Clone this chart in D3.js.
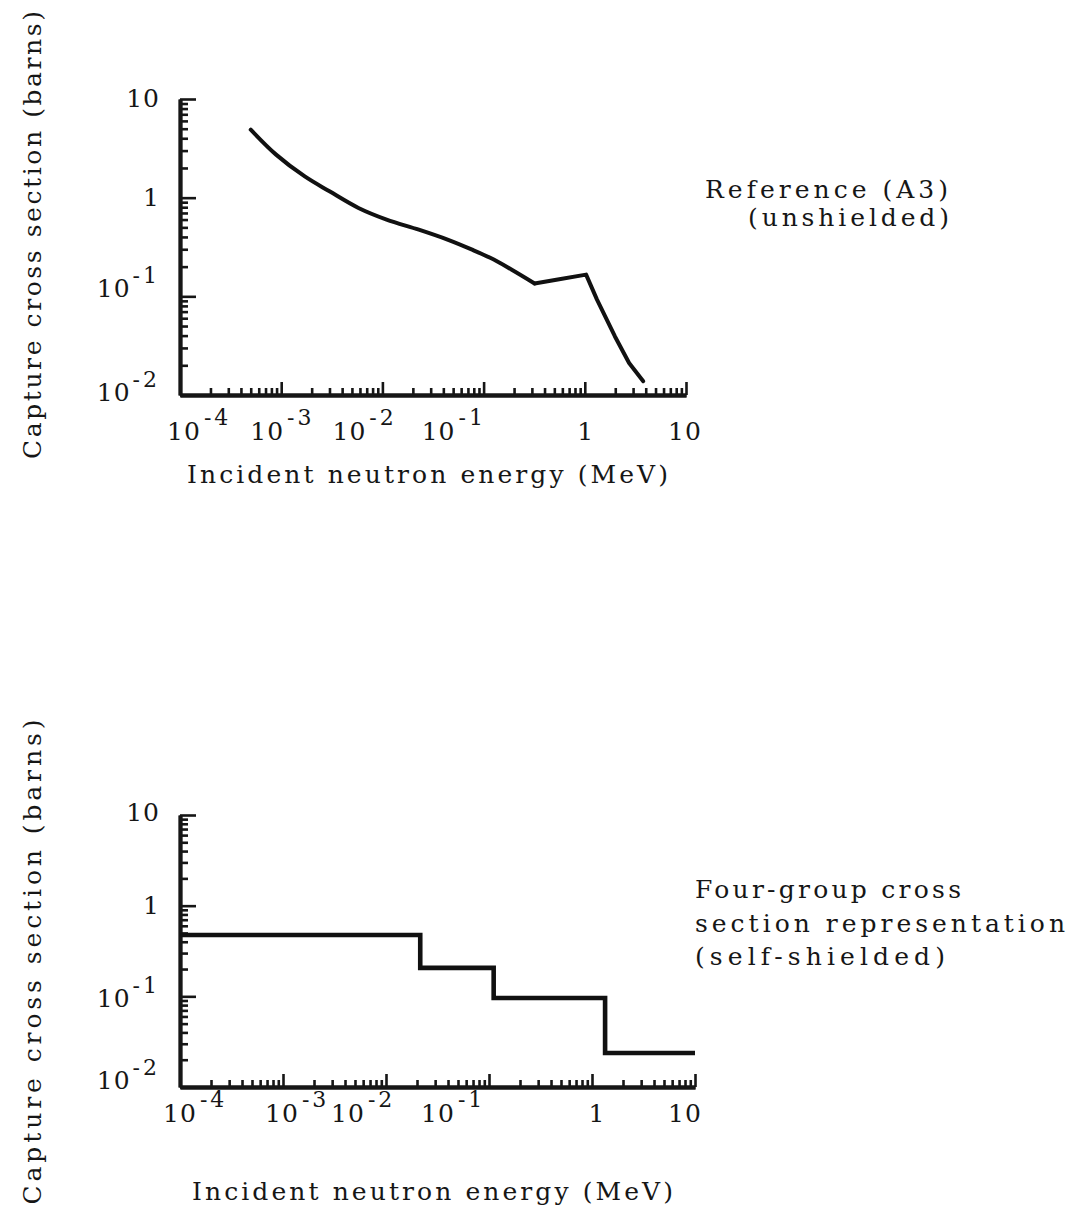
<!DOCTYPE html>
<html>
<head>
<meta charset="utf-8">
<script src="https://cdn.jsdelivr.net/npm/d3@7"></script>
<style>
  body { margin: 0; background: #fff; }
  svg { display: block; }
  text { font-family: "DejaVu Serif", serif; fill: #161616; }
  .domain { stroke: #161616; stroke-width: 3.8; }
  .tick line { stroke: #161616; stroke-width: 2.6; }
</style>
</head>
<body>
<svg id="chart" width="1071" height="1213"></svg>
<script>
// Unshielded capture cross section (barns) vs incident neutron energy (MeV)
const refEnergy = [5.0e-4, 8.9e-4, 1.71e-3, 3.0e-3, 5.8e-3, 1.10e-2, 2.29e-2, 4.4e-2, 7.7e-2, 0.126, 0.188, 0.319, 0.541, 1.03, 1.32, 1.98, 2.74, 3.78];
const refSigma  = [4.89, 2.73, 1.64, 1.16, 0.787, 0.600, 0.474, 0.376, 0.297, 0.236, 0.187, 0.135, 0.148, 0.166, 0.0927, 0.0394, 0.0211, 0.0138];
// index of the minimum near 0.3 MeV, where the smooth fall gives way to the resonance bump
const dipIndex = 11;

// Four-group self-shielded representation: group boundaries (MeV) and group values (barns)
const groupBounds = [1e-4, 0.0215, 0.111, 1.34, 10];
const groupSigma  = [0.475, 0.206, 0.096, 0.0237];

// Axis decades and their printed labels (base, exponent)
const xDecades = [1e-4, 1e-3, 1e-2, 1e-1, 1, 10];
const xDecadeText = [["10", "-4"], ["10", "-3"], ["10", "-2"], ["10", "-1"], ["1", ""], ["10", ""]];
const yDecades = [10, 1, 0.1, 0.01];
const yDecadeText = [["10", ""], ["1", ""], ["10", "-1"], ["10", "-2"]];

const xTitle = "Incident neutron energy (MeV)";
const yTitle = "Capture cross section (barns)";
const topNote = ["Reference (A3)", "(unshielded)"];
const bottomNote = ["Four-group cross", "section representation", "(self-shielded)"];

const svg = d3.select("#chart");

const isDecade = v => Math.abs(Math.log10(v) - Math.round(Math.log10(v))) < 1e-9;

// Layout of the two panels; label shifts follow the hand-set lettering
const panels = [
  { xr: [180, 686], yr: [395, 99], xLabelShift: [4, -14, -33, -45, 1, -1], yLabelShift: [-1, -1, -8, -3],
    xLabelY: 440, titleY: 483, titleX: 187, yTitleY: 235, yTitleLen: 448 },
  { xr: [180, 695], yr: [1087, 815], xLabelShift: [0, -1, -38, -51, 5, -10], yLabelShift: [-3, -1, 2, -7],
    xLabelY: 1122, titleY: 1200, titleX: 192, yTitleY: 962, yTitleLen: 485 }
];

function drawPanel(p) {
  const x = d3.scaleLog().domain([1e-4, 10]).range(p.xr);
  const y = d3.scaleLog().domain([0.01, 10]).range(p.yr);
  const g = svg.append("g");

  const xMinor = x.ticks().filter(v => !isDecade(v));
  const yMinor = y.ticks().filter(v => !isDecade(v));

  // x axis: minor and decade ticks pointing inward
  g.append("g").attr("transform", `translate(0,${p.yr[0]})`)
    .call(d3.axisBottom(x).tickValues(xMinor).tickSizeInner(-7).tickSizeOuter(0).tickFormat(""));
  g.append("g").attr("transform", `translate(0,${p.yr[0]})`)
    .call(d3.axisBottom(x).tickValues(xDecades).tickSizeInner(-13).tickSizeOuter(0).tickFormat(""));

  // y axis
  g.append("g").attr("transform", `translate(${p.xr[0]},0)`)
    .call(d3.axisLeft(y).tickValues(yMinor).tickSizeInner(-8).tickSizeOuter(0).tickFormat(""));
  g.append("g").attr("transform", `translate(${p.xr[0]},0)`)
    .call(d3.axisLeft(y).tickValues(yDecades).tickSizeInner(-16).tickSizeOuter(0).tickFormat(""));

  g.selectAll(".tick text").remove();

  // x decade labels
  xDecades.forEach((v, i) => {
    const cx = x(v) + p.xLabelShift[i];
    const base = g.append("text").attr("x", cx).attr("y", p.xLabelY)
      .attr("text-anchor", "middle").style("font-size", "25px").style("letter-spacing", "1px")
      .text(xDecadeText[i][0]);
    if (xDecadeText[i][1]) {
      const w = base.node().getComputedTextLength();
      g.append("text").attr("x", cx + w / 2 + 3).attr("y", p.xLabelY - 15)
        .style("font-size", "22px").style("letter-spacing", "3px")
        .text(xDecadeText[i][1]);
    }
  });

  // y decade labels, right-aligned left of the axis
  const right = p.xr[0] - 20;
  yDecades.forEach((v, i) => {
    const cy = y(v) + p.yLabelShift[i] + 9;
    let bx = right;
    if (yDecadeText[i][1]) {
      const e = g.append("text").attr("x", right).attr("y", cy - 14)
        .attr("text-anchor", "end").style("font-size", "22px").style("letter-spacing", "3px")
        .text(yDecadeText[i][1]);
      bx = right - e.node().getComputedTextLength() - 2;
    }
    g.append("text").attr("x", bx).attr("y", cy)
      .attr("text-anchor", "end").style("font-size", "25px").style("letter-spacing", "1px")
      .text(yDecadeText[i][0]);
  });

  // axis titles
  g.append("text").attr("x", p.titleX).attr("y", p.titleY)
    .style("font-size", "25px").attr("textLength", 481).attr("lengthAdjust", "spacing")
    .text(xTitle);
  g.append("text").attr("transform", `translate(41,${p.yTitleY}) rotate(-90)`)
    .attr("text-anchor", "middle").style("font-size", "25px")
    .attr("textLength", p.yTitleLen).attr("lengthAdjust", "spacing")
    .text(yTitle);

  return { x, y, g };
}

// Upper panel: continuous reference curve — smooth fall, then the straight-edged bump
const upper = drawPanel(panels[0]);
const refPoints = refEnergy.map((e, i) => ({ e, s: refSigma[i] }));
const pieces = [
  { pts: refPoints.slice(0, dipIndex + 1), curve: d3.curveCatmullRom.alpha(0.5) },
  { pts: refPoints.slice(dipIndex), curve: d3.curveLinear }
];
pieces.forEach(pc => {
  upper.g.append("path")
    .datum(pc.pts)
    .attr("fill", "none").attr("stroke", "#111").attr("stroke-width", 4)
    .attr("stroke-linejoin", "round").attr("stroke-linecap", "round")
    .attr("d", d3.line().curve(pc.curve).x(d => upper.x(d.e)).y(d => upper.y(d.s)));
});

// Lower panel: four-group step representation
const lower = drawPanel(panels[1]);
const stepPoints = groupBounds.map((b, i) => ({ e: b, s: groupSigma[Math.min(i, groupSigma.length - 1)] }));
lower.g.append("path")
  .datum(stepPoints)
  .attr("fill", "none").attr("stroke", "#111").attr("stroke-width", 4.6)
  .attr("stroke-linejoin", "miter")
  .attr("d", d3.line().curve(d3.curveStepAfter).x(d => lower.x(d.e)).y(d => lower.y(d.s)));

// Side notes
const noteFont = "25px";
svg.append("text").attr("x", 705).attr("y", 198).style("font-size", noteFont)
  .attr("textLength", 243).attr("lengthAdjust", "spacing").text(topNote[0]);
svg.append("text").attr("x", 748).attr("y", 226).style("font-size", noteFont)
  .attr("textLength", 201).attr("lengthAdjust", "spacing").text(topNote[1]);

const bottomNoteLayout = [[898, 266], [932, 370], [965, 250]];
bottomNote.forEach((t, i) => {
  svg.append("text").attr("x", 695).attr("y", bottomNoteLayout[i][0]).style("font-size", noteFont)
    .attr("textLength", bottomNoteLayout[i][1]).attr("lengthAdjust", "spacing").text(t);
});
</script>
</body>
</html>
